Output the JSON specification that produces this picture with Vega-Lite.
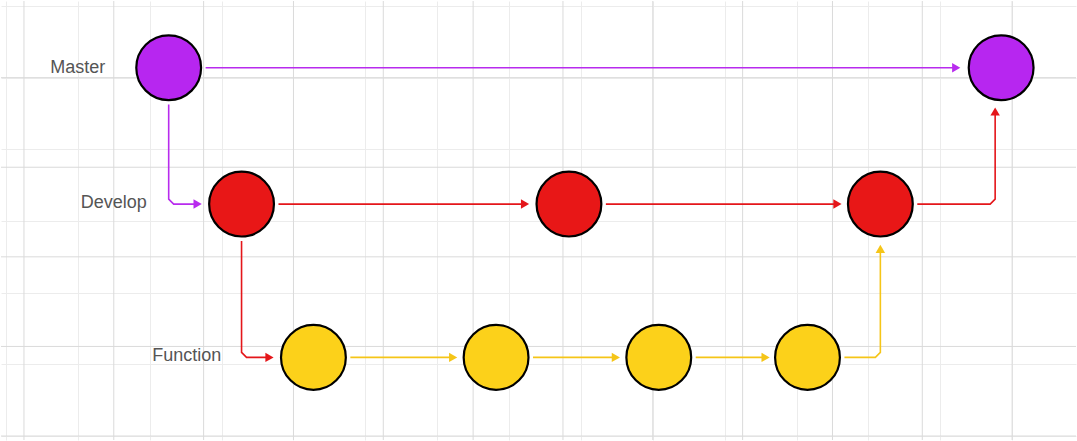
{
  "$schema": "https://vega.github.io/schema/vega-lite/v6.json",
  "width": 1077,
  "height": 441,
  "autosize": {"type": "fit", "contains": "padding"},
  "padding": 0,
  "background": "#ffffff",
  "config": {"view": {"stroke": null}},
  "datasets": {
    "vmajor": [{"x": 23}, {"x": 113}, {"x": 203}, {"x": 293}, {"x": 383}, {"x": 473}, {"x": 563}, {"x": 653}, {"x": 743}, {"x": 833}, {"x": 923}, {"x": 1013}],
    "hmajor": [{"y": 77}, {"y": 167}, {"y": 257}, {"y": 347}, {"y": 437}],
    "edges": [
      {"e": "m1m2", "o": 1, "x": 205, "y": 67, "c": "#B82BEE"},
      {"e": "m1m2", "o": 2, "x": 955, "y": 67, "c": "#B82BEE"},
      {"e": "m1d1", "o": 1, "x": 168, "y": 104, "c": "#B82BEE"},
      {"e": "m1d1", "o": 2, "x": 168, "y": 199, "c": "#B82BEE"},
      {"e": "m1d1", "o": 3, "x": 173, "y": 204, "c": "#B82BEE"},
      {"e": "m1d1", "o": 4, "x": 195, "y": 204, "c": "#B82BEE"},
      {"e": "d1d2", "o": 1, "x": 278, "y": 204, "c": "#E4161A"},
      {"e": "d1d2", "o": 2, "x": 523, "y": 204, "c": "#E4161A"},
      {"e": "d2d3", "o": 1, "x": 606, "y": 204, "c": "#E4161A"},
      {"e": "d2d3", "o": 2, "x": 836, "y": 204, "c": "#E4161A"},
      {"e": "d3m2", "o": 1, "x": 918, "y": 204, "c": "#E4161A"},
      {"e": "d3m2", "o": 2, "x": 991, "y": 204, "c": "#E4161A"},
      {"e": "d3m2", "o": 3, "x": 996, "y": 199, "c": "#E4161A"},
      {"e": "d3m2", "o": 4, "x": 996, "y": 113, "c": "#E4161A"},
      {"e": "d1f1", "o": 1, "x": 241, "y": 241, "c": "#E4161A"},
      {"e": "d1f1", "o": 2, "x": 241, "y": 353, "c": "#E4161A"},
      {"e": "d1f1", "o": 3, "x": 246, "y": 358, "c": "#E4161A"},
      {"e": "d1f1", "o": 4, "x": 267, "y": 358, "c": "#E4161A"},
      {"e": "f1f2", "o": 1, "x": 350, "y": 358, "c": "#F5C518"},
      {"e": "f1f2", "o": 2, "x": 451, "y": 358, "c": "#F5C518"},
      {"e": "f2f3", "o": 1, "x": 533, "y": 358, "c": "#F5C518"},
      {"e": "f2f3", "o": 2, "x": 614, "y": 358, "c": "#F5C518"},
      {"e": "f3f4", "o": 1, "x": 696, "y": 358, "c": "#F5C518"},
      {"e": "f3f4", "o": 2, "x": 764, "y": 358, "c": "#F5C518"},
      {"e": "f4d3", "o": 1, "x": 845, "y": 358, "c": "#F5C518"},
      {"e": "f4d3", "o": 2, "x": 876, "y": 358, "c": "#F5C518"},
      {"e": "f4d3", "o": 3, "x": 881, "y": 353, "c": "#F5C518"},
      {"e": "f4d3", "o": 4, "x": 881, "y": 250, "c": "#F5C518"}
    ],
    "arrows": [
      {"x": 957, "y": 67, "s": "triangle-right", "c": "#B82BEE"},
      {"x": 197, "y": 204, "s": "triangle-right", "c": "#B82BEE"},
      {"x": 525, "y": 204, "s": "triangle-right", "c": "#E4161A"},
      {"x": 838, "y": 204, "s": "triangle-right", "c": "#E4161A"},
      {"x": 996, "y": 111, "s": "triangle-up", "c": "#E4161A"},
      {"x": 269, "y": 358, "s": "triangle-right", "c": "#E4161A"},
      {"x": 453, "y": 358, "s": "triangle-right", "c": "#F5C518"},
      {"x": 616, "y": 358, "s": "triangle-right", "c": "#F5C518"},
      {"x": 766, "y": 358, "s": "triangle-right", "c": "#F5C518"},
      {"x": 881, "y": 249, "s": "triangle-up", "c": "#F5C518"}
    ],
    "nodes": [
      {"x": 168, "y": 67, "c": "#B726F0"},
      {"x": 1002, "y": 67, "c": "#B726F0"},
      {"x": 241, "y": 204, "c": "#E81717"},
      {"x": 569, "y": 204, "c": "#E81717"},
      {"x": 881, "y": 204, "c": "#E81717"},
      {"x": 313, "y": 358, "c": "#FCD11A"},
      {"x": 496, "y": 358, "c": "#FCD11A"},
      {"x": 659, "y": 358, "c": "#FCD11A"},
      {"x": 808, "y": 358, "c": "#FCD11A"}
    ],
    "labels": [
      {"x": 77, "y": 67, "t": "Master"},
      {"x": 113, "y": 203, "t": "Develop"},
      {"x": 186, "y": 357, "t": "Function"}
    ]
  },
  "layer": [
    {
      "data": {"name": "nodes"},
      "mark": {"type": "point", "opacity": 0},
      "encoding": {
        "x": {"field": "x", "type": "quantitative", "scale": {"domain": [0, 1077], "nice": false, "zero": false},
          "axis": {"title": null, "labels": false, "ticks": false, "domain": false, "gridColor": "#ececec", "gridWidth": 1,
            "values": [5,23,41,59,77,95,113,131,149,167,185,203,221,239,257,275,293,311,329,347,365,383,401,419,437,455,473,491,509,527,545,563,581,599,617,635,653,671,689,707,725,743,761,779,797,815,833,851,869,887,905,923,941,959,977,995,1013,1031,1049,1067]}},
        "y": {"field": "y", "type": "quantitative", "scale": {"domain": [0, 441], "nice": false, "zero": false, "reverse": true},
          "axis": {"title": null, "labels": false, "ticks": false, "domain": false, "gridColor": "#ececec", "gridWidth": 1,
            "values": [5,23,41,59,77,95,113,131,149,167,185,203,221,239,257,275,293,311,329,347,365,383,401,419,437]}}
      }
    },
    {
      "data": {"name": "vmajor"},
      "mark": {"type": "rule", "color": "#dadada", "strokeWidth": 1},
      "encoding": {"x": {"field": "x", "type": "quantitative"}}
    },
    {
      "data": {"name": "hmajor"},
      "mark": {"type": "rule", "color": "#dadada", "strokeWidth": 1},
      "encoding": {"y": {"field": "y", "type": "quantitative"}}
    },
    {
      "data": {"name": "edges"},
      "mark": {"type": "line", "strokeWidth": 1.6},
      "encoding": {
        "x": {"field": "x", "type": "quantitative"},
        "y": {"field": "y", "type": "quantitative"},
        "detail": {"field": "e"},
        "order": {"field": "o"},
        "color": {"field": "c", "type": "nominal", "scale": null}
      }
    },
    {
      "data": {"name": "arrows"},
      "mark": {"type": "point", "filled": true, "opacity": 1, "size": 90},
      "encoding": {
        "x": {"field": "x", "type": "quantitative"},
        "y": {"field": "y", "type": "quantitative"},
        "shape": {"field": "s", "type": "nominal", "scale": null},
        "color": {"field": "c", "type": "nominal", "scale": null}
      }
    },
    {
      "data": {"name": "nodes"},
      "mark": {"type": "point", "filled": true, "opacity": 1, "size": 4200, "stroke": "#000000", "strokeWidth": 2.2, "strokeOpacity": 1},
      "encoding": {
        "x": {"field": "x", "type": "quantitative"},
        "y": {"field": "y", "type": "quantitative"},
        "fill": {"field": "c", "type": "nominal", "scale": null}
      }
    },
    {
      "data": {"name": "labels"},
      "mark": {"type": "text", "font": "Liberation Sans", "fontSize": 18, "color": "#555555", "align": "center", "baseline": "middle"},
      "encoding": {
        "x": {"field": "x", "type": "quantitative"},
        "y": {"field": "y", "type": "quantitative"},
        "text": {"field": "t"}
      }
    }
  ]
}
